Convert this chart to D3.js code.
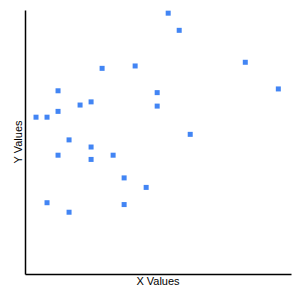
<!DOCTYPE html>
<html><head><meta charset="utf-8">
<script src="https://cdn.jsdelivr.net/npm/d3@7"></script>
<style>body{margin:0;background:#fff}svg{display:block}</style>
</head><body>
<svg id="chart" width="300" height="300"></svg>
<script>
const xValues = [1, 2, 2, 3, 3, 3, 4, 4, 5, 6, 6, 6, 7, 8, 9, 9, 10, 11, 12, 12, 13, 14, 15, 20, 23];
const yValues = [59.4, 59.4, 27, 69.4, 61.6, 45, 50.8, 23.4, 64, 65.2, 48.1, 43.4, 77.9, 45, 36.4, 26.3, 78.8, 32.8, 68.7, 63.6, 98.8, 92.3, 52.9, 80.2, 70.1];
const xLabel = "X Values";
const yLabel = "Y Values";

const svg = d3.select("#chart");
const m = {left: 25, right: 9, top: 10, bottom: 26};
const W = 300, H = 300;
const x = d3.scaleLinear().domain([0, d3.max(xValues) * 1.05]).range([m.left, W - m.right]);
const y = d3.scaleLinear().domain([0, 100]).range([H - m.bottom, m.top]);

svg.append("g").attr("transform", `translate(0,${H - m.bottom})`)
  .call(d3.axisBottom(x).tickValues([]).tickSizeOuter(0))
  .select(".domain").attr("stroke", "#000").attr("stroke-width", 1.5);
svg.append("g").attr("transform", `translate(${m.left},0)`)
  .call(d3.axisLeft(y).tickValues([]).tickSizeOuter(0))
  .select(".domain").attr("stroke", "#000").attr("stroke-width", 1.5);

const pts = xValues.map((v, i) => ({x: v, y: yValues[i]}));
const s = 5;
svg.append("g").selectAll("rect").data(pts).join("rect")
  .attr("x", d => x(d.x) - s / 2).attr("y", d => y(d.y) - s / 2)
  .attr("width", s).attr("height", s).attr("fill", "#4285F4");

svg.append("text").attr("x", (m.left + W - m.right) / 2).attr("y", 285)
  .attr("text-anchor", "middle").attr("font-family", "Liberation Sans, Arial, sans-serif")
  .attr("font-size", 11).attr("fill", "#000").text(xLabel);
svg.append("text").attr("transform", `translate(22,${(m.top + H - m.bottom) / 2}) rotate(-90)`)
  .attr("text-anchor", "middle").attr("font-family", "Liberation Sans, Arial, sans-serif")
  .attr("font-size", 11).attr("fill", "#000").text(yLabel);
</script>
</body></html>
